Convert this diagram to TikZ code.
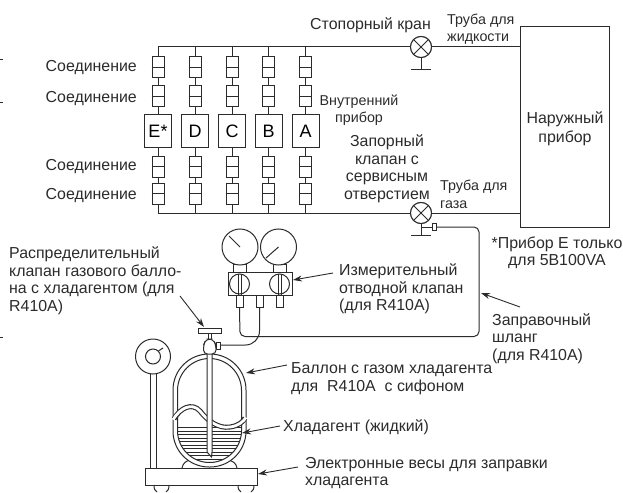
\documentclass[tikz,border=0pt]{standalone}
\usepackage{fontspec}
\setmainfont{Liberation Sans}
\usetikzlibrary{arrows.meta,calc}
\definecolor{ink}{HTML}{2B2B2B}
\tikzset{
  pipe/.style={draw=ink,line width=1pt},
  conn/.style={pipe,fill=white,minimum width=12pt,minimum height=21pt,inner sep=0pt},
  unitbox/.style={pipe,fill=white,minimum width=27pt,minimum height=32pt,inner sep=0pt,font=\fontsize{18}{20}\selectfont},
  valve/.style={pipe,fill=white,circle,minimum size=21pt,inner sep=0pt},
  gauge/.style={pipe,fill=white,circle,minimum size=36pt,inner sep=0pt},
  knob/.style={pipe,fill=white,circle,minimum size=20pt,inner sep=0pt},
  port/.style={pipe,fill=white,minimum width=7pt,minimum height=12pt,inner sep=0pt},
  neck/.style={pipe,fill=white,minimum width=13pt,minimum height=8pt,inner sep=0pt},
  lbl/.style={inner sep=0pt,yshift=-2.2pt,text=ink,font=\fontsize{15.9}{17.5}\selectfont},
  small/.style={font=\fontsize{14.3}{17.8}\selectfont},
  lblw/.style={lbl,anchor=west,align=left},
  lblc/.style={lbl,align=center},
  arw/.style={draw=ink,line width=0.9pt,-{Stealth[length=9pt,width=6pt]}},
}
\begin{document}
\begin{tikzpicture}[x=1pt,y=-1pt]
\useasboundingbox (0,0) rectangle (623,492);
% outdoor unit
\node[pipe,minimum width=89pt,minimum height=200pt,inner sep=0pt] (out) at (564.5,127) {};
\node[lblc,font=\fontsize{15.9}{19}\selectfont] (outt) at (565,126.5) {Наружный\\прибор};
% trunks
\node[valve] (v1) at (421,47) {};
\node[valve] (v2) at (421,213) {};
\coordinate (t0) at (158,47);
\coordinate (b0) at (158,213);
\draw[pipe] (t0) -- (v1);
\draw[pipe] (b0) -- (v2);
\draw[pipe] (v1) -- (v1 -| out.west);
\draw[pipe] (v2) -- (v2 -| out.west);
\node[valve] (v1b) at (421,47) {};
\node[valve] (v2b) at (421,213) {};
\draw[pipe] (v1b.45)--(v1b.225) (v1b.135)--(v1b.315);
\draw[pipe] (v2b.45)--(v2b.225) (v2b.135)--(v2b.315);
\coordinate (f1) at (421,70);
\draw[pipe] (v1b.south) -- (f1) ++(-10,0) -- ++(20,0);
\coordinate (f2) at (421,235);
\draw[pipe] (v2b.south) -- (f2) ++(-10,0) -- ++(20,0);
% left edge ticks
\coordinate (tk1) at (0,60); \coordinate (tk2) at (0,103); \coordinate (tk3) at (0,337);
\foreach \k in {tk1,tk2,tk3}{\draw[pipe] (\k) -- ++(3,0);}
% indoor columns
\foreach \n/\x/\u in {e/158/E*,d/195/D,c/232/C,b/268.5/B,a/305.5/A}{
  \coordinate (t\n) at (\x,47);
  \coordinate (w\n) at (\x,213);
  \node[conn] (c1\n) at (\x,67.5) {};
  \node[conn] (c2\n) at (\x,96.5) {};
  \node[unitbox] (u\n) at (\x,131) {\u};
  \node[conn] (c3\n) at (\x,166.5) {};
  \node[conn] (c4\n) at (\x,193.5) {};
  \draw[pipe] (t\n)--(c1\n) (c1\n)--(c2\n) (c2\n)--(u\n) (u\n)--(c3\n) (c3\n)--(c4\n) (c4\n)--(w\n);
  \foreach \k in {1,2,3,4}{\draw[pipe] (c\k\n.west)--(c\k\n.east);}
}
% gas service port + hose
\coordinate (sp) at (421,227);
\node[pipe,fill=white,minimum width=4pt,minimum height=7pt,inner sep=0pt] (sport) at (434,227) {};
\draw[pipe] (sp) -- (sport);
% manifold
\node[pipe,fill=white,minimum width=64pt,minimum height=23pt,inner sep=0pt] (mf) at (260,283.5) {};
\node[neck] (n1) at (240,268) {};
\node[neck] (n2) at (279.5,268) {};
\node[gauge] (g1) at (240,247) {};
\node[gauge] (g2) at (278.5,247) {};
\draw[pipe] (g1.center) -- (229,236);
\draw[pipe] (g2.center) -- (266,258);
\node[knob] (k1) at (239.5,284) {};
\node[knob] (k2) at (279.5,284) {};
\foreach \k in {k1,k2}{\draw[pipe] ($(\k.north)+(-1.5,0)$)--($(\k.south)+(-1.5,0)$) ($(\k.north)+(1.5,0)$)--($(\k.south)+(1.5,0)$);}
\node[port] (p1) at (239.5,301) {};
\node[port] (p2) at (259.5,301) {};
\node[port] (p3) at (279.5,301) {};
% hoses
\draw[pipe,rounded corners=5pt] (sport.east) -- (479,227) -- (479,336.5) -- (240,336.5) -- (p1.south);
\draw[pipe,rounded corners=14pt] (p2.south) -- (259.5,345) -- (220,345);
% scale
\node[pipe,fill=white,minimum width=112pt,minimum height=17pt,inner sep=0pt] (sc) at (201,476.5) {};
\draw[pipe] (154,485) .. controls (154,489) and (155,491) .. (157,492);
\draw[pipe] (169,485) .. controls (169,489) and (168,491) .. (166,492);
\draw[pipe] (238,485) .. controls (238,489) and (239,491) .. (241,492);
\draw[pipe] (254,485) .. controls (254,489) and (253,491) .. (251,492);
\draw[pipe] (182,468) .. controls (183,463) and (186,461) .. (190,460);
\draw[pipe] (237,468) .. controls (236,463) and (233,461) .. (228,460);
\node[pipe,fill=white,minimum width=6pt,minimum height=96pt,inner sep=0pt] (pole) at (153,420) {};
\node[pipe,fill=white,circle,minimum size=35pt,inner sep=0pt] (dial) at (153,356.5) {};
\node[pipe,fill=white,circle,minimum size=15pt,inner sep=0pt] (dialin) at (153,356.5) {};
\draw[pipe] (dialin.45) -- (163,348);
% cylinder
\node[pipe,fill=white,minimum width=73pt,minimum height=113pt,inner sep=0pt,rounded corners=36pt] (cy) at (209.5,410.5) {};
\node[pipe,fill=white,minimum width=64pt,minimum height=104pt,inner sep=0pt,rounded corners=32pt] (cyi) at (209.5,410.5) {};
\begin{scope}
  \clip[rounded corners=32pt] (177.5,358.5) rectangle (241.5,462.5);
  \foreach \y in {427.5,431,434.5,438,441.5,445,448.5,452,455.5,459,462}{
    \draw[ink,line width=0.8pt] (175,\y) -- (245,\y);
  }
\end{scope}
\path[draw=ink,line width=5pt] (174,419) .. controls (180,408) and (192,402) .. (200,411) .. controls (207,420) and (218,429) .. (230,427) .. controls (238,426) and (243,422) .. (245,418);
\path[draw=white,line width=2.8pt] (173,419.7) .. controls (180,408) and (192,402) .. (200,411) .. controls (207,420) and (218,429) .. (230,427) .. controls (238,426) and (243,422) .. (246,417.5);
\draw[pipe,fill=white] (207,352) -- (207,452) -- (211.5,457) -- (212,452) -- (212,352) -- cycle;
% cylinder valve
\node[pipe,fill=white,minimum width=4pt,minimum height=7pt,inner sep=0pt] (nub) at (218,345.5) {};
\draw[pipe,fill=white,rounded corners=4pt] (203.5,354) -- (203.5,345) -- (206,339) -- (213,339) -- (216,345) -- (216,354) -- cycle;
\node[pipe,fill=white,minimum width=23pt,minimum height=5pt,inner sep=0pt] (hd) at (209.5,330.5) {};
\draw[pipe] (208,333) -- (208,339) (211,333) -- (211,339);
% labels
\node[lblw] (l1) at (45.5,65) {Соединение};
\node[lblw] (l2) at (45.5,96) {Соединение};
\node[lblw] (l3) at (45.5,164) {Соединение};
\node[lblw] (l4) at (45.5,193) {Соединение};
\node[lblw] (l5) at (310,23) {Стопорный кран};
\node[lblw,small] (l6) at (447,27) {Труба для\\жидкости};
\node[lblc,small] (l7) at (359,108) {Внутренний\\прибор};
\node[lblc] (l8) at (387,166.5) {Запорный\\клапан с\\сервисным\\отверстием};
\node[lblw,small] (l9) at (440,192) {Труба для\\газа};
\node[lblc] (l10) at (557,250.5) {*Прибор Е только\\для 5В100VA};
\node[lblw] (l11) at (9,278.5) {Распределительный\\клапан газового балло-\\на с хладагентом (для\\R410A)};
\node[lblw] (l12) at (339,287) {Измерительный\\отводной клапан\\(для R410A)};
\node[lblw] (l13) at (492,336.5) {Заправочный\\шланг\\(для R410A)};
\node[lblw] (l14) at (291,376.5) {Баллон с газом хладагента\\для~ R410A~ с сифоном};
\node[lblw] (l15) at (283,425) {Хладагент (жидкий)};
\node[lblw] (l16) at (305,471) {Электронные весы для заправки\\хладагента};
% arrows
\coordinate (a1) at (180,296);
\coordinate (a2) at (333,273);
\coordinate (a3) at (520,307);
\coordinate (a4) at (287,365);
\coordinate (a5) at (280,426);
\coordinate (a6) at (298,467);
\draw[arw] (a1) -- (204,327);
\draw[arw] (a2) -- (293,280);
\draw[arw] (a3) -- (481,293);
\draw[arw] (a4) -- (246,373);
\draw[arw] (a5) -- (242,433);
\draw[arw] (a6) -- (258,474);
\end{tikzpicture}
\end{document}
